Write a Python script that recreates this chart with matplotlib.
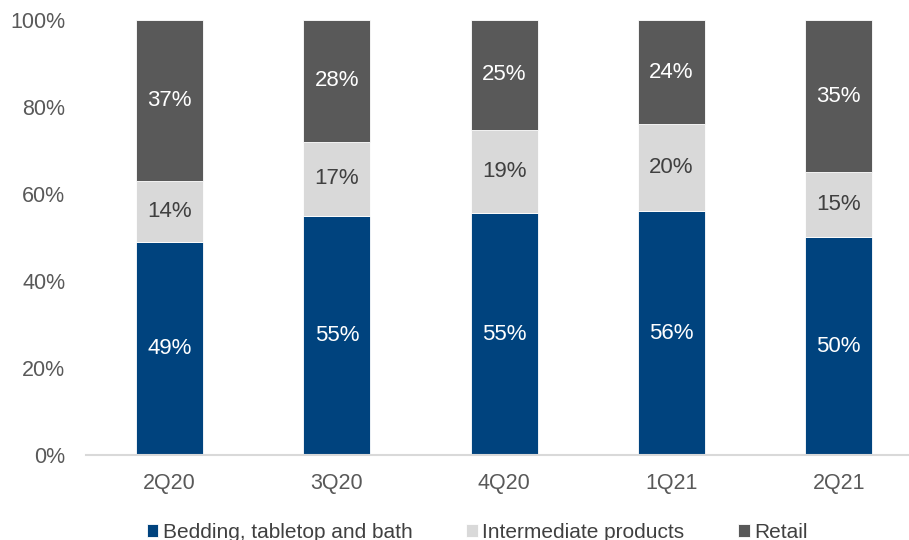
import numpy as np
import matplotlib.pyplot as plt

plt.rcParams['font.family'] = ['Liberation Sans', 'DejaVu Sans']

quarters = ['2Q20', '3Q20', '4Q20', '1Q21', '2Q21']
bedding = [49, 55, 55, 56, 50]
intermediate = [14, 17, 19, 20, 15]
retail = [37, 28, 25, 24, 35]

series = [
    ('Bedding, tabletop and bath', bedding, '#00437E', 'white'),
    ('Intermediate products', intermediate, '#D9D9D9', '#404040'),
    ('Retail', retail, '#595959', 'white'),
]

totals = np.array(bedding) + np.array(intermediate) + np.array(retail)
x = np.arange(len(quarters))

fig = plt.figure(figsize=(9.09, 5.40), dpi=100)
ax = fig.add_axes([86 / 909, 1 - 455 / 540, 1 - 86 / 909, 435 / 540])

bottom = np.zeros(len(quarters))
for name, vals, color, txtcol in series:
    share = np.array(vals) / totals * 100
    ax.bar(x, share, 0.4, bottom=bottom, color=color, label=name,
           edgecolor='white', linewidth=0.6)
    for xi, b, s, v in zip(x, bottom, share, vals):
        ax.text(xi, b + s / 2, f'{v}%', ha='center', va='center',
                color=txtcol, fontsize=16)
    bottom += share

ax.set_xlim(-0.5, 4.42)
ax.set_ylim(0, 100)
ax.set_xticks(x)
ax.set_xticklabels(quarters)
ax.set_yticks(range(0, 101, 20))
ax.set_yticklabels([f'{v}%' for v in range(0, 101, 20)])
ax.tick_params(length=0, labelsize=15.5, labelcolor='#595959')
ax.tick_params(axis='x', pad=13)
ax.tick_params(axis='y', pad=15)
for side in ['top', 'right', 'left']:
    ax.spines[side].set_visible(False)
ax.spines['bottom'].set_color('#D9D9D9')
ax.spines['bottom'].set_linewidth(1.5)

fig.legend(loc='lower center', bbox_to_anchor=(0.525, -0.038), ncol=3,
           frameon=False, fontsize=15, handlelength=0.55, handleheight=0.6,
           handletextpad=0.2, columnspacing=2.6, labelcolor='#404040')

fig.savefig('out.png', dpi=100)
